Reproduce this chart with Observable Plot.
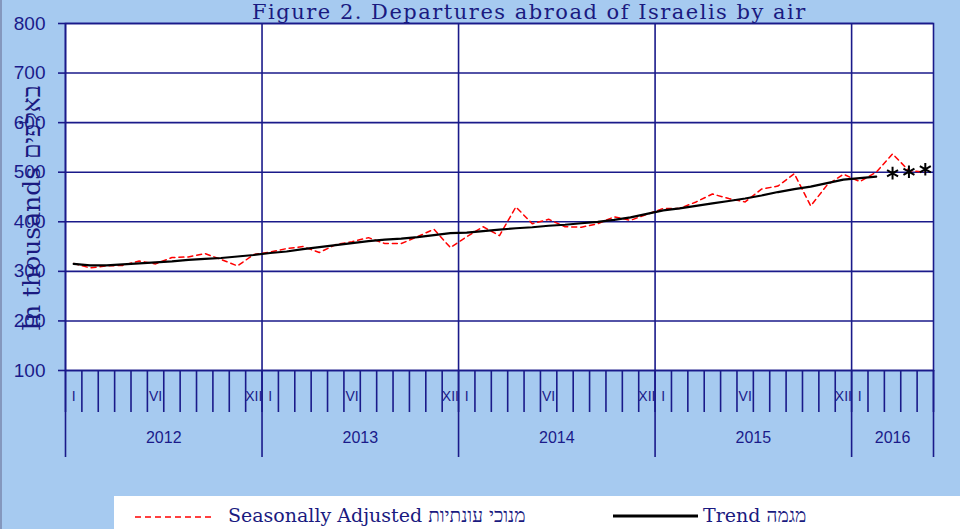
<!DOCTYPE html>
<html><head><meta charset="utf-8">
<script src="https://cdn.jsdelivr.net/npm/d3@7"></script>
<script src="https://cdn.jsdelivr.net/npm/@observablehq/plot@0.6"></script>
<style>
html,body{margin:0;padding:0;}
body{width:960px;height:529px;overflow:hidden;background:#A6CAF0;}
#wrap{position:relative;width:960px;height:529px;background:#A6CAF0;overflow:hidden;}
#chart{position:absolute;left:0;top:0;}
#edge{position:absolute;left:0;top:0;width:2px;height:529px;background:#8497bd;}
#title{position:absolute;left:252px;top:0px;font-family:"DejaVu Serif",serif;font-size:21px;line-height:normal;letter-spacing:1.5px;color:#1a1a80;white-space:nowrap;}
#ylab{position:absolute;left:31px;top:208px;transform:translate(-50%,-50%) rotate(-90deg);font:25px "DejaVu Serif",serif;color:#1a1a80;white-space:nowrap;}
#legend{position:absolute;left:114px;top:496px;width:846px;height:40px;background:#fff;}
</style></head>
<body><div id="wrap"><div id="chart"></div><div id="edge"></div>
<div id="title">Figure 2. Departures abroad of Israelis by air</div>
<div id="ylab">In thousands באלפים</div>
<div id="legend"></div>
</div>
<script>
const years = [2012, 2013, 2014, 2015, 2016];
const monthsPerYear = [12, 12, 12, 12, 5];
const monthLabels = ["I", "", "", "", "", "VI", "", "", "", "", "", "XII"];
const yTicks = [100, 200, 300, 400, 500, 600, 700, 800];
// Seasonally adjusted, Jan 2012 - May 2016 (thousands)
const seasonallyAdjusted = [
  316, 307, 311, 312, 321, 315, 328, 329, 336, 324, 311, 334,
  339, 346, 350, 338, 354, 360, 368, 356, 356, 370, 385, 348,
  370, 390, 372, 430, 396, 405, 390, 389, 396, 410, 403, 415,
  427, 427, 440, 456, 447, 440, 466, 472, 497, 432, 474, 496,
  481, 500, 537, 503, 500
];
// Trend, Jan 2012 - Feb 2016
const trend = [
  315, 312, 312, 314, 316, 318, 320, 323, 325, 327, 330, 333,
  337, 340, 345, 349, 353, 357, 361, 364, 366, 369, 373, 377,
  378, 381, 384, 387, 389, 392, 394, 397, 400, 404, 409, 416,
  423, 427, 432, 437, 442, 447, 453, 460, 466, 471, 478, 485,
  488, 491
];
// Provisional trend (asterisks), Mar - May 2016
const trendProvisional = [498, 501, 506];

const navy = "#1a1a8a";
const N = seasonallyAdjusted.length;
const yearStarts = [];
let acc = 0;
monthsPerYear.forEach(c => { yearStarts.push(acc); acc += c; });
const yearBounds = [...yearStarts, acc];
const yearData = years.map((y, k) => ({year: String(y), mid: yearStarts[k] + monthsPerYear[k] / 2}));
const monthLabelData = [];
years.forEach((y, k) => {
  for (let j = 0; j < monthsPerYear[k]; j++) {
    if (monthLabels[j]) monthLabelData.push({m: yearStarts[k] + j + 0.5, label: monthLabels[j]});
  }
});
const monthBoundaries = d3.range(0, N + 1);
const saData = seasonallyAdjusted.map((v, i) => ({m: i + 0.5, v}));
const trData = trend.map((v, i) => ({m: i + 0.5, v}));
const provData = trendProvisional.map((v, i) => ({m: trend.length + i + 0.5, v}));

const chart = Plot.plot({
  width: 960, height: 470,
  marginLeft: 65, marginRight: 27, marginTop: 23, marginBottom: 100,
  x: {domain: [0, N], axis: null},
  y: {domain: [100, 800], axis: null},
  style: {background: "transparent", overflow: "visible", fontFamily: "Liberation Sans, Arial, sans-serif"},
  marks: [
    Plot.frame({fill: "white", stroke: null}),
    Plot.gridY(yTicks, {stroke: navy, strokeOpacity: 1, strokeWidth: 1.6}),
    Plot.gridX(yearStarts, {stroke: navy, strokeOpacity: 1, strokeWidth: 1.6}),
    Plot.line(saData, {x: "m", y: "v", stroke: "#ff0000", strokeWidth: 1.5, strokeDasharray: "5,4"}),
    Plot.line(trData, {x: "m", y: "v", stroke: "#000", strokeWidth: 2.2}),
    Plot.dot(provData, {x: "m", y: "v", symbol: "asterisk", r: 6, stroke: "#000", strokeWidth: 2}),
    Plot.axisY(yTicks, {anchor: "left", tickSize: 7, tickPadding: 13, fontSize: 19, color: navy, strokeWidth: 1.6, label: null}),
    Plot.axisX(monthBoundaries, {anchor: "bottom", tickSize: 42, tickFormat: () => "", color: navy, strokeWidth: 1.6, label: null}),
    Plot.axisX(yearBounds, {anchor: "bottom", tickSize: 87, tickFormat: () => "", color: navy, strokeWidth: 1.6, label: null}),
    Plot.text(monthLabelData, {x: "m", text: "label", frameAnchor: "bottom", dy: 30, fontSize: 14, fill: navy}),
    Plot.text(yearData, {x: "mid", text: "year", frameAnchor: "bottom", dy: 72, fontSize: 16, fill: navy}),
    Plot.frame({stroke: navy, strokeWidth: 1.6})
  ]
});
document.getElementById("chart").appendChild(chart);

const legend = d3.select("#legend").append("svg").attr("width", 846).attr("height", 40);
legend.append("line").attr("x1", 21).attr("x2", 101).attr("y1", 21).attr("y2", 21)
  .attr("stroke", "#ff0000").attr("stroke-width", 1.5).attr("stroke-dasharray", "6,4");
legend.append("text").attr("x", 114).attr("y", 26).attr("fill", "#1a1a80")
  .style("font", "19px 'DejaVu Serif', serif").text("Seasonally Adjusted מנוכי עונתיות");
legend.append("line").attr("x1", 499).attr("x2", 584).attr("y1", 20).attr("y2", 20)
  .attr("stroke", "#000").attr("stroke-width", 3);
legend.append("text").attr("x", 589).attr("y", 26).attr("fill", "#1a1a80")
  .style("font", "19px 'DejaVu Serif', serif").text("Trend מגמה");
</script>
</body></html>
